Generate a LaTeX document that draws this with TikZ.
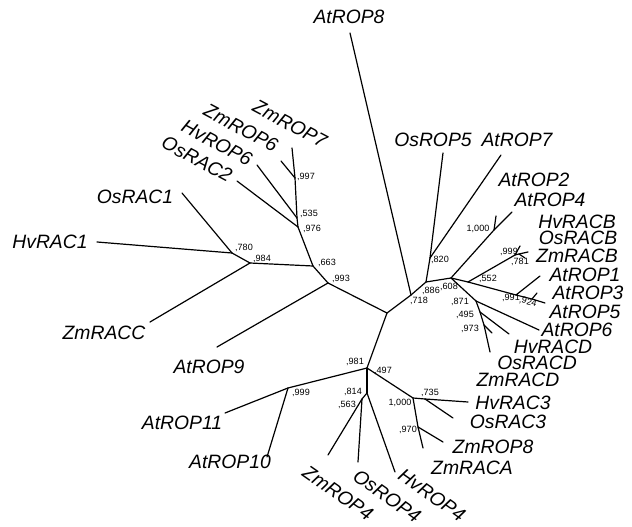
\documentclass[tikz,border=0pt]{standalone}
\usepackage{fontspec}
\setmainfont{Liberation Sans}
\usetikzlibrary{positioning}

\tikzset{
  taxon/.style={font=\itshape\fontsize{14.5}{16}\selectfont, inner sep=0pt},
  support/.style={font=\fontsize{6.8}{8}\selectfont, inner sep=0pt},
  branch/.style={line width=0.9pt, line cap=round, line join=round}
}

\begin{document}
\begin{tikzpicture}[x=0.75pt, y=-0.75pt]
  \useasboundingbox (0,0) rectangle (632,527);

  % inner nodes of the tree
  \foreach \n/\p in {c0/{387,313}, r0/{411,295}, r1/{426,282}, n820/{430,258},
      r2/{451,278}, n1000t/{494,230}, r3/{468,282}, n999b/{515,255},
      n781/{519,254}, n991/{516,295}, n924/{532,299}, n871/{476,301},
      n495/{480,312}, n973/{484,325},
      l993/{328,283}, l663/{313,266}, l984/{250,263}, l780/{232,253},
      l976/{298,227}, l535/{297,218}, l997/{295,178},
      d0/{367,368}, d999/{288,388}, d814/{367,393}, d563/{362,399},
      d1000/{413,398}, d735/{425,399}, d970/{418,427}}
    \coordinate (\n) at (\p);

  % leaf tips
  \foreach \n/\p in {AtROP8/{350,33}, OsROP5/{443,153}, AtROP7/{501,155},
      AtROP2/{496,216}, AtROP4/{512,212}, HvRACB/{520,246}, OsRACB/{528,252},
      ZmRACB/{525,258}, AtROP1/{540,276}, AtROP3/{537,293}, AtROP5/{545,303},
      AtROP6/{539,330}, HvRACD/{509,334}, OsRACD/{492,333}, ZmRACD/{490,352},
      OsRAC1/{182,193}, HvRAC1/{97,242}, ZmRACC/{150,322}, AtROP9/{217,347},
      OsRAC2/{237,181}, HvROP6/{257,165}, ZmROP6/{281,161}, ZmROP7/{292,148},
      AtROP11/{225,413}, AtROP10/{267,457}, HvROP4/{395,472}, ZmROP4/{328,455},
      OsROP4/{358,462}, HvRAC3/{468,402}, OsRAC3/{453,418}, ZmROP8/{443,442},
      ZmRACA/{423,448}}
    \coordinate (t\n) at (\p);

  % branches
  \foreach \a/\b in {c0/r0, r0/r1, r1/n820, r1/r2, r2/n1000t, r2/r3,
      r3/n999b, n999b/n781, r3/n991, n991/n924, r2/n871, n871/n495, n495/n973,
      c0/l993, l993/l663, l663/l984, l984/l780, l663/l976, l976/l535, l535/l997,
      c0/d0, d0/d999, d0/d814, d814/d563, d0/d1000, d1000/d735, d1000/d970,
      r0/tAtROP8, n820/tOsROP5, n820/tAtROP7, n1000t/tAtROP2, n1000t/tAtROP4,
      n999b/tHvRACB, n781/tOsRACB, n781/tZmRACB, n991/tAtROP1, n924/tAtROP3,
      n924/tAtROP5, n871/tAtROP6, n495/tHvRACD, n973/tOsRACD, n973/tZmRACD,
      l780/tOsRAC1, l780/tHvRAC1, l984/tZmRACC, l993/tAtROP9, l976/tOsRAC2,
      l535/tHvROP6, l997/tZmROP6, l997/tZmROP7, d999/tAtROP11, d999/tAtROP10,
      d814/tHvROP4, d563/tZmROP4, d563/tOsROP4, d735/tHvRAC3, d735/tOsRAC3,
      d970/tZmROP8, d970/tZmRACA}
    \draw[branch] (\a) -- (\b);

  % taxon names
  \foreach \n/\p/\r in {AtROP8/{349,17}/0, OsROP5/{433,140}/0, AtROP7/{517,140}/0,
      AtROP2/{534,180}/0, AtROP4/{550,200}/0, HvRACB/{577,222}/0,
      OsRACB/{578,238}/0, ZmRACB/{577,256}/0, AtROP1/{585,275}/0,
      AtROP3/{588,293}/0, AtROP5/{585,312}/0, AtROP6/{577,330}/0,
      HvRACD/{553,347}/0, OsRACD/{537,363}/0, ZmRACD/{518,380}/0,
      HvRAC3/{513,403}/0, OsRAC3/{508,422}/0, ZmROP8/{493,447}/0,
      ZmRACA/{472,468}/0, AtROP10/{230,462}/0, AtROP11/{182,423}/0,
      AtROP9/{209,367}/0, ZmRACC/{104,333}/0, HvRAC1/{50,242}/0,
      OsRAC1/{135,197}/0, OsRAC2/{197,159}/-28, HvROP6/{217,143}/-28,
      ZmROP6/{241,128}/-28, ZmROP7/{290,124}/-28, ZmROP4/{338,493}/-35,
      OsROP4/{387,496}/-35, HvROP4/{432,495}/-35}
    \node[taxon, rotate=\r] (lab\n) at (\p) {\n};

  % support values
  \foreach \p/\t/\r [count=\i] in {{306,177}/{,997}/0, {309,214}/{,535}/0,
      {312,229}/{,976}/0, {244,248}/{,780}/0, {262,259}/{,984}/0,
      {327,263}/{,663}/0, {341,279}/{,993}/0, {440,260}/{,820}/0,
      {431,291}/{,886}/0, {419,301}/{,718}/0, {449,287}/{,608}/0,
      {478,229}/{1,000}/0, {509,252}/{,999}/0, {520,262}/{,781}/0,
      {488,279}/{,552}/0, {511,298}/{,991}/0, {528,302}/{,924}/-15,
      {460,302}/{,871}/0, {465,315}/{,495}/0, {470,329}/{,973}/0,
      {355,362}/{,981}/0, {383,371}/{,497}/0, {301,393}/{,999}/0,
      {353,392}/{,814}/0, {347,405}/{,563}/0, {400,403}/{1,000}/0,
      {430,393}/{,735}/0, {408,430}/{,970}/0}
    \node[support, rotate=\r] (sv\i) at (\p) {\t};
\end{tikzpicture}
\end{document}
